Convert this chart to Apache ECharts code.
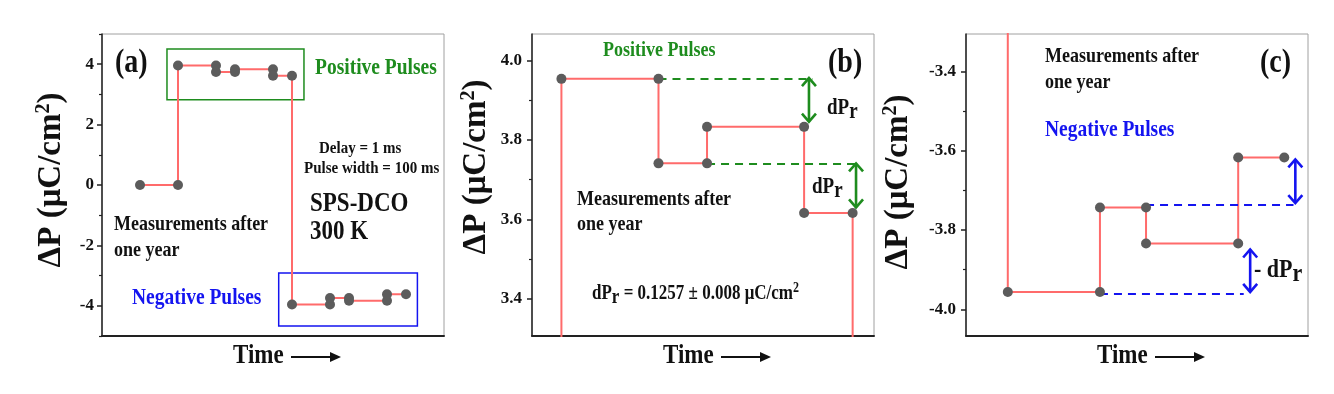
<!DOCTYPE html>
<html>
<head>
<meta charset="utf-8">
<title>SPS-DCO retention, dPr steps</title>
<script src="https://cdn.jsdelivr.net/npm/echarts@6/dist/echarts.min.js"></script>
</head>
<body style="margin:0;background:#fff">
<div id="main" style="width:1334px;height:394px;"></div>
<script>
// measured points (time in arbitrary pulse steps, dP in uC/cm2)
var startTime = [2, 4];
var startVal = [0, 0];
var posTime = [4, 6, 6, 7, 7, 9, 9, 10];
var posVal = [3.954, 3.954, 3.741, 3.741, 3.833, 3.833, 3.616, 3.616];
var negTime = [10, 12, 12, 13, 13, 15, 15, 16];
var negVal = [-3.956, -3.956, -3.743, -3.743, -3.834, -3.834, -3.617, -3.617];

// tick labels
var ticksA = [-4, -2, 0, 2, 4];
var minorA = [-5, -3, -1, 1, 3, 5];
var ticksB = [3.4, 3.6, 3.8, 4.0];
var minorB = [3.5, 3.7, 3.9];
var ticksC = [-4.0, -3.8, -3.6, -3.4];
var minorC = [-3.9, -3.7, -3.5];

// dPr guides: dashed [from, to, level], arrows [time, from, to]
var posDash = [[6, 9.18, 3.954], [7, 10.1, 3.741]];
var posArrows = [[9.1, 3.956, 3.846], [10.07, 3.741, 3.630]];
var negDash = [[13, 16.2, -3.737], [12, 15.12, -3.960]];
var negArrows = [[16.24, -3.622, -3.732], [15.26, -3.849, -3.956]];

function pairs(t, v) {
    var out = [];
    for (var i = 0; i < t.length; i++) out.push([t[i], v[i]]);
    return out;
}
var stepData = pairs(startTime.concat(posTime, negTime), startVal.concat(posVal, negVal));

var FONT = '"Liberation Serif", "Times New Roman", serif';
var RED = '#ff6b6b';
var DOT = '#5c5c5c';
var GREEN = '#1e8c1e';
var BLUE = '#1414f0';
var SY = 1.18; // text in the figure is a bit tall

function yMain(grid, min, max, ticks, dec, margin, gap, lift) {
    return {
        type: 'value', gridIndex: grid, min: min, max: max, position: 'left',
        name: '{a|ΔP (μC/cm}{s|2}{a|)}', nameLocation: 'middle', nameGap: gap,
        nameTextStyle: {
            padding: [0, 0, 0, lift],
            rich: {
                a: {fontFamily: FONT, fontWeight: 'bold', fontSize: 33, color: '#111'},
                s: {fontFamily: FONT, fontWeight: 'bold', fontSize: 20, color: '#111', verticalAlign: 'top', padding: [0, 0, 14, 0]}
            }
        },
        axisLine: {show: true, lineStyle: {color: '#222', width: 1.5}},
        axisTick: {show: true, length: 5, customValues: ticks, lineStyle: {color: '#222', width: 1.5}},
        axisLabel: {
            customValues: ticks, margin: margin,
            fontFamily: FONT, fontWeight: 'bold', fontSize: 17, color: '#111',
            formatter: function (v) { return v.toFixed(dec); }
        },
        splitLine: {show: false}
    };
}
function yMinor(grid, min, max, ticks) {
    return {
        type: 'value', gridIndex: grid, min: min, max: max, position: 'left',
        axisLine: {show: false},
        axisTick: {show: true, length: 3, customValues: ticks, lineStyle: {color: '#222', width: 1.2}},
        axisLabel: {show: false},
        splitLine: {show: false}
    };
}
function xAx(grid, min, max) {
    return {
        type: 'value', gridIndex: grid, min: min, max: max,
        axisLine: {show: true, onZero: false, lineStyle: {color: '#222', width: 2}},
        axisTick: {show: false}, axisLabel: {show: false}, splitLine: {show: false}
    };
}

function renderArrow(params, api) {
    var a = api.coord([api.value(0), api.value(1)]);
    var b = api.coord([api.value(0), api.value(2)]);
    var c = api.visual('color');
    var d = b[1] > a[1] ? 1 : -1;
    var w = 7, h = 8;
    var st = {stroke: c, fill: null, lineWidth: 2.6};
    return {
        type: 'group', children: [
            {type: 'line', shape: {x1: a[0], y1: a[1], x2: b[0], y2: b[1]}, style: st},
            {type: 'polyline', shape: {points: [[a[0] - w, a[1] + d * h], a, [a[0] + w, a[1] + d * h]]}, style: st},
            {type: 'polyline', shape: {points: [[b[0] - w, b[1] - d * h], b, [b[0] + w, b[1] - d * h]]}, style: st}
        ]
    };
}

function dashLines(list, color) {
    return {
        silent: true, symbol: 'none', animation: false,
        lineStyle: {color: color, width: 2, type: [8, 6]},
        label: {show: false},
        data: list.map(function (r) { return [{coord: [r[0], r[2]]}, {coord: [r[1], r[2]]}]; })
    };
}

function txt(x, y, text, size, color, rich) {
    return {
        type: 'text', x: x, y: y, scaleY: SY, silent: true, z: 10,
        style: {
            text: text, fill: color || '#111', font: 'bold ' + size + 'px ' + FONT,
            verticalAlign: 'middle', rich: rich
        }
    };
}
function dprRich(size) {
    return {
        r: {fontFamily: FONT, fontWeight: 'bold', fontSize: size, fill: '#111', padding: [size * 0.35, 0, 0, 0]}
    };
}
function timeLabel(x) {
    return {
        type: 'group', x: x, y: 356, silent: true, children: [
            {type: 'text', x: 0, y: 0, scaleY: SY, style: {text: 'Time', font: 'bold 23px ' + FONT, fill: '#111', verticalAlign: 'middle'}},
            {type: 'line', shape: {x1: 58, y1: 1, x2: 100, y2: 1}, style: {stroke: '#111', lineWidth: 2}},
            {type: 'polygon', shape: {points: [[97, -4], [108, 1], [97, 6]]}, style: {fill: '#111'}}
        ]
    };
}

var myChart = echarts.init(document.getElementById('main'));
var option = {
    backgroundColor: '#fff',
    animation: false,
    grid: [
        {left: 102, top: 34, width: 342, height: 302, show: true, borderColor: '#a0a0a0', borderWidth: 1},
        {left: 532, top: 34, width: 342, height: 302, show: true, borderColor: '#a0a0a0', borderWidth: 1},
        {left: 966, top: 34, width: 342, height: 302, show: true, borderColor: '#a0a0a0', borderWidth: 1}
    ],
    xAxis: [xAx(0, 0, 18), xAx(1, 3.394, 10.44), xAx(2, 9.093, 16.515)],
    yAxis: [
        yMain(0, -5, 5, ticksA, 0, 8, 34, 10), yMinor(0, -5, 5, minorA),
        yMain(1, 3.306, 4.067, ticksB, 1, 10, 39, 36), yMinor(1, 3.306, 4.067, minorB),
        yMain(2, -4.067, -3.306, ticksC, 1, 10, 51, 6), yMinor(2, -4.067, -3.306, minorC)
    ],
    series: [
        // panel (a)
        {type: 'line', xAxisIndex: 0, yAxisIndex: 0, data: stepData, showSymbol: false,
         lineStyle: {color: RED, width: 2}, itemStyle: {color: RED}, silent: true,
         markArea: {silent: true, itemStyle: {color: 'rgba(0,0,0,0)', borderColor: GREEN, borderWidth: 1.5},
            data: [[{coord: [3.42, 4.5]}, {coord: [10.63, 2.82]}]]}},
        {type: 'line', xAxisIndex: 0, yAxisIndex: 0, data: [], showSymbol: false,
         markArea: {silent: true, itemStyle: {color: 'rgba(0,0,0,0)', borderColor: BLUE, borderWidth: 1.5},
            data: [[{coord: [9.3, -2.91]}, {coord: [16.6, -4.67]}]]}},
        {type: 'scatter', xAxisIndex: 0, yAxisIndex: 0, data: stepData, symbolSize: 10, z: 5, itemStyle: {color: DOT, opacity: 1}},
        // panel (b)
        {type: 'line', xAxisIndex: 1, yAxisIndex: 2, data: stepData, showSymbol: false, clip: true,
         lineStyle: {color: RED, width: 2}, itemStyle: {color: RED},
         markLine: dashLines(posDash, GREEN)},
        {type: 'scatter', xAxisIndex: 1, yAxisIndex: 2, data: pairs(posTime, posVal), symbolSize: 10, z: 5, itemStyle: {color: DOT, opacity: 1}},
        {type: 'custom', xAxisIndex: 1, yAxisIndex: 2, data: posArrows, renderItem: renderArrow,
         itemStyle: {color: GREEN}, encode: {x: 0, y: [1, 2]}},
        // panel (c)
        {type: 'line', xAxisIndex: 2, yAxisIndex: 4, data: stepData, showSymbol: false, clip: true,
         lineStyle: {color: RED, width: 2}, itemStyle: {color: RED},
         markLine: dashLines(negDash, BLUE)},
        {type: 'scatter', xAxisIndex: 2, yAxisIndex: 4, data: pairs(negTime, negVal), symbolSize: 10, z: 5, itemStyle: {color: DOT, opacity: 1}},
        {type: 'custom', xAxisIndex: 2, yAxisIndex: 4, data: negArrows, renderItem: renderArrow,
         itemStyle: {color: BLUE}, encode: {x: 0, y: [1, 2]}}
    ],
    graphic: [
        // (a)
        txt(115, 63, '(a)', 28),
        txt(315, 68, 'Positive Pulses', 19.5, GREEN),
        txt(319, 148, 'Delay = 1 ms', 15),
        txt(304, 168, 'Pulse width = 100 ms', 15),
        txt(310, 204, 'SPS-DCO', 23),
        txt(310, 232, '300 K', 23),
        txt(114, 225, 'Measurements after', 18),
        txt(114, 251, 'one year', 18),
        txt(132, 298, 'Negative Pulses', 19.5, BLUE),
        // (b)
        txt(603, 51, 'Positive Pulses', 18, GREEN),
        txt(828, 63, '(b)', 28),
        txt(827, 108, 'dP{r|r}', 19, '#111', dprRich(19)),
        txt(812, 187, 'dP{r|r}', 19, '#111', dprRich(19)),
        txt(577, 200, 'Measurements after', 18),
        txt(577, 225, 'one year', 18),
        txt(592, 294, 'dP{r|r} = 0.1257 ± 0.008 μC/cm{s|2}', 17, '#111', {
            r: {fontFamily: FONT, fontWeight: 'bold', fontSize: 17, fill: '#111', padding: [6, 0, 0, 0]},
            s: {fontFamily: FONT, fontWeight: 'bold', fontSize: 12, fill: '#111', padding: [0, 0, 9, 0]}
        }),
        // (c)
        txt(1045, 57, 'Measurements after', 18),
        txt(1045, 83, 'one year', 18),
        txt(1260, 63, '(c)', 28),
        txt(1045, 130, 'Negative Pulses', 19.5, BLUE),
        txt(1254, 270, '- dP{r|r}', 22, '#111', dprRich(22)),
        // time axes
        timeLabel(233), timeLabel(663), timeLabel(1097)
    ]
};
myChart.setOption(option);
</script>
</body>
</html>
